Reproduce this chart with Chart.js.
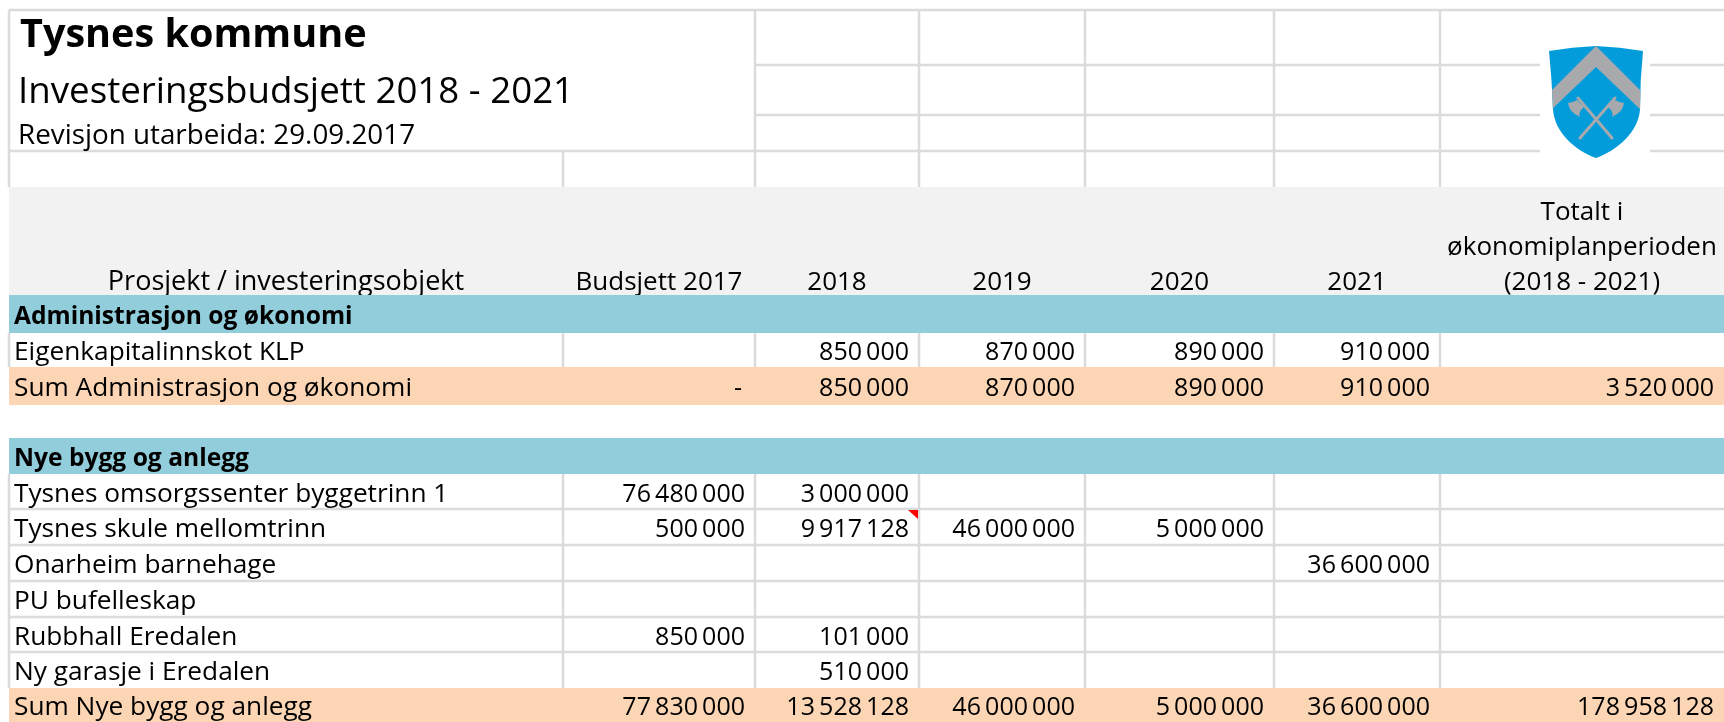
<!DOCTYPE html>
<html lang="nn">
<head>
<meta charset="utf-8">
<title>Tysnes kommune - Investeringsbudsjett 2018 - 2021</title>
<style>
  html, body { margin: 0; padding: 0; background: #ffffff; }
  canvas { display: block; }
</style>
</head>
<body>
<canvas id="budsjett" width="1724" height="722"></canvas>
<script src="https://cdn.jsdelivr.net/npm/chart.js@4/dist/chart.umd.min.js"></script>
<script>
// Data
const columns = ['Prosjekt / investeringsobjekt', 'Budsjett 2017', '2018', '2019', '2020', '2021', 'Totalt i økonomiplanperioden (2018 - 2021)'];
const rows = [
  'Administrasjon og økonomi',
  'Eigenkapitalinnskot KLP',
  'Sum Administrasjon og økonomi',
  ' ',
  'Nye bygg og anlegg',
  'Tysnes omsorgssenter byggetrinn 1',
  'Tysnes skule mellomtrinn',
  'Onarheim barnehage',
  'PU bufelleskap',
  'Rubbhall Eredalen',
  'Ny garasje i Eredalen',
  'Sum Nye bygg og anlegg'
];
const rowKinds = ['section', 'item', 'sum', 'blank', 'section', 'item', 'item', 'item', 'item', 'item', 'item', 'sum'];

const budsjett2017 = [null, null, 0, null, null, 76480000, 500000, null, null, 850000, null, 77830000];
const verdi2018 = [null, 850000, 850000, null, null, 3000000, 9917128, null, null, 101000, 510000, 13528128];
const verdi2019 = [null, 870000, 870000, null, null, null, 46000000, null, null, null, null, 46000000];
const verdi2020 = [null, 890000, 890000, null, null, null, 5000000, null, null, null, null, 5000000];
const verdi2021 = [null, 910000, 910000, null, null, null, null, 36600000, null, null, null, 36600000];
const totalt = [null, null, 3520000, null, null, null, null, null, null, null, null, 178958128];

const tittel = 'Tysnes kommune';
const undertittel = 'Investeringsbudsjett 2018 - 2021';
const revisjon = 'Revisjon utarbeida: 29.09.2017';

// Layout of the sheet, in pixels
const columnWidths = [554, 192, 164, 166, 189, 166, 284];
const rowHeights = [38, 34, 38, 33, 36, 35, 36, 36, 36, 35, 36, 34];
const TEXT_DROP = 3;
const FONT = '"Open Sans", sans-serif';
const GRID = '#dadbdd';
const FILLS = { section: '#92cddc', sum: '#fcd5b4' };

// Category scale whose cells have their own sizes, like columns in a spreadsheet
class TableScale extends Chart.CategoryScale {
  static id = 'tableScale';

  sizes() {
    return this.isHorizontal() ? columnWidths : rowHeights;
  }

  cellStart(index) {
    const sizes = this.sizes();
    const offset = sizes.slice(0, index).reduce((sum, size) => sum + size, 0);
    return (this.isHorizontal() ? this.left : this.top) + offset;
  }

  cellEnd(index) {
    return this.cellStart(index) + this.sizes()[index];
  }

  getPixelForValue(value) {
    const index = typeof value === 'number' ? value : this.parse(value);
    if (index === null || index === undefined) return NaN;
    const middle = (this.cellStart(index) + this.cellEnd(index)) / 2;
    return this.isHorizontal() ? middle : middle + TEXT_DROP;
  }
}
Chart.register(TableScale);

function formatValue(value) {
  return value === 0 ? '-' : String(value).replace(/\B(?=(\d{3})+$)/g, '\u2009');
}

function columnDataset(column, values) {
  return {
    label: column,
    data: values.flatMap((value, i) => (value === null ? [] : [{ x: column, y: rows[i], v: value }])),
    pointRadius: 0,
    showLine: false
  };
}

function line(ctx, x1, y1, x2, y2) {
  ctx.beginPath();
  ctx.moveTo(x1, y1);
  ctx.lineTo(x2, y2);
  ctx.stroke();
}

function drawSheetTop(ctx, chart) {
  const x = chart.scales.x;
  const left = x.left;
  const right = x.right;

  ctx.strokeStyle = GRID;
  ctx.lineWidth = 2.5;
  line(ctx, left, 10, right, 10);
  line(ctx, left, 151, 1540, 151);
  line(ctx, 1650, 151, right, 151);
  [65, 115].forEach((y) => {
    line(ctx, x.cellStart(2), y, 1540, y);
    line(ctx, 1650, y, right, y);
  });
  line(ctx, left, 10, left, x.top);
  line(ctx, x.cellStart(1), 151, x.cellStart(1), x.top);
  [2, 3, 4, 5, 6].forEach((i) => line(ctx, x.cellStart(i), 10, x.cellStart(i), x.top));

  ctx.fillStyle = '#000000';
  ctx.textAlign = 'left';
  ctx.textBaseline = 'alphabetic';
  ctx.font = `bold 39.6px ${FONT}`;
  ctx.fillText(tittel, 20, 47);
  ctx.font = `36.7px ${FONT}`;
  ctx.fillText(undertittel, 18, 103);
  ctx.font = `27.8px ${FONT}`;
  ctx.fillText(revisjon, 18, 144);
}

function drawShield(ctx) {
  const outline = new Path2D();
  outline.moveTo(1549, 51);
  outline.quadraticCurveTo(1572, 47, 1596, 46);
  outline.quadraticCurveTo(1620, 47, 1643, 51);
  outline.quadraticCurveTo(1640, 80, 1640, 110);
  outline.bezierCurveTo(1638, 132, 1618, 150, 1596, 158);
  outline.bezierCurveTo(1574, 150, 1555, 132, 1553, 110);
  outline.quadraticCurveTo(1552, 80, 1549, 51);
  outline.closePath();

  ctx.save();
  ctx.fillStyle = '#029cdb';
  ctx.fill(outline);
  ctx.clip(outline);
  ctx.fillStyle = '#a7a9ac';
  ctx.beginPath();
  ctx.moveTo(1596, 46);
  ctx.lineTo(1644, 94);
  ctx.lineTo(1644, 113);
  ctx.lineTo(1596, 67);
  ctx.lineTo(1548, 113);
  ctx.lineTo(1548, 94);
  ctx.closePath();
  ctx.fill();
  ctx.restore();

  // crossed axes
  ctx.strokeStyle = '#a7a9ac';
  ctx.lineWidth = 3;
  ctx.lineCap = 'round';
  line(ctx, 1580, 138, 1615, 98);
  line(ctx, 1612, 138, 1578, 98);
  ctx.lineCap = 'butt';
  ctx.fillStyle = '#a7a9ac';
  [-1, 1].forEach((side) => {
    ctx.beginPath();
    ctx.moveTo(1596 + side * 19, 100);
    ctx.quadraticCurveTo(1596 + side * 24, 103, 1596 + side * 28, 103);
    ctx.quadraticCurveTo(1596 + side * 27, 112, 1596 + side * 16, 117);
    ctx.quadraticCurveTo(1596 + side * 18, 112, 1596 + side * 12, 107);
    ctx.closePath();
    ctx.fill();
  });
}

function drawRows(ctx, chart) {
  const x = chart.scales.x;
  const y = chart.scales.y;

  ctx.fillStyle = '#f2f2f2';
  ctx.fillRect(x.left, x.top, x.right - x.left, x.bottom - x.top);

  rowKinds.forEach((kind, i) => {
    if (FILLS[kind]) {
      ctx.fillStyle = FILLS[kind];
      ctx.fillRect(x.left, y.cellStart(i), x.right - x.left, y.cellEnd(i) - y.cellStart(i));
    }
    if (kind === 'item') {
      ctx.strokeStyle = GRID;
      ctx.lineWidth = 2.5;
      [0, 1, 2, 3, 4, 5, 6].forEach((c) => line(ctx, x.cellStart(c), y.cellStart(i), x.cellStart(c), y.cellEnd(i)));
      if (rowKinds[i + 1] === 'item') {
        line(ctx, x.left, y.cellEnd(i), x.right, y.cellEnd(i));
      }
    }
  });
}

const sheetPlugin = {
  id: 'sheet',
  beforeDraw(chart) {
    const ctx = chart.ctx;
    ctx.save();
    drawSheetTop(ctx, chart);
    drawRows(ctx, chart);
    drawShield(ctx);
    ctx.restore();
  },
  afterDatasetsDraw(chart) {
    const ctx = chart.ctx;
    const x = chart.scales.x;
    const y = chart.scales.y;
    ctx.save();
    ctx.fillStyle = '#000000';
    ctx.font = `25px ${FONT}`;
    ctx.textAlign = 'right';
    ctx.textBaseline = 'middle';
    chart.data.datasets.forEach((dataset, d) => {
      const meta = chart.getDatasetMeta(d);
      dataset.data.forEach((point, i) => {
        const pad = point.v === 0 ? 13 : 10;
        const end = x.cellEnd(d + 1);
        ctx.fillText(formatValue(point.v), end - pad, meta.data[i].y);
      });
    });

    // comment marker in cell 2018 / Tysnes skule mellomtrinn
    const cellRight = x.cellEnd(2) - 1;
    const cellTop = y.cellStart(6) + 1;
    ctx.fillStyle = '#ff0000';
    ctx.beginPath();
    ctx.moveTo(cellRight - 10, cellTop);
    ctx.lineTo(cellRight, cellTop);
    ctx.lineTo(cellRight, cellTop + 9);
    ctx.closePath();
    ctx.fill();
    ctx.restore();
  }
};

new Chart(document.getElementById('budsjett'), {
  type: 'scatter',
  data: {
    datasets: [
      columnDataset(columns[1], budsjett2017),
      columnDataset(columns[2], verdi2018),
      columnDataset(columns[3], verdi2019),
      columnDataset(columns[4], verdi2020),
      columnDataset(columns[5], verdi2021),
      columnDataset(columns[6], totalt)
    ]
  },
  options: {
    responsive: false,
    animation: false,
    events: [],
    layout: { padding: { top: 187, left: 9, right: 0, bottom: 0 } },
    plugins: {
      legend: { display: false },
      tooltip: { enabled: false }
    },
    scales: {
      x: {
        type: 'tableScale',
        position: 'top',
        labels: columns,
        offset: true,
        grid: { display: false },
        border: { display: false },
        afterFit(scale) { scale.height = 108; },
        ticks: {
          autoSkip: false,
          maxRotation: 0,
          minRotation: 0,
          padding: -13,
          color: '#000000',
          font(context) {
            return { family: FONT, size: context.index === 0 ? 27 : 26, lineHeight: 35 / 26 };
          },
          callback(value) {
            const label = this.getLabelForValue(value);
            return value === 6 ? ['Totalt i', 'økonomiplanperioden', '(2018 - 2021)'] : label;
          }
        }
      },
      y: {
        type: 'tableScale',
        labels: rows,
        offset: true,
        grid: { display: false },
        border: { display: false },
        afterFit(scale) { scale.width = 0; },
        ticks: {
          autoSkip: false,
          mirror: true,
          padding: 5,
          color: '#000000',
          font(context) {
            return rowKinds[context.index] === 'section'
              ? { family: FONT, size: 24.6, weight: 'bold' }
              : { family: FONT, size: 26.25, weight: 'normal' };
          }
        }
      }
    }
  },
  plugins: [sheetPlugin]
});
</script>
</body>
</html>
